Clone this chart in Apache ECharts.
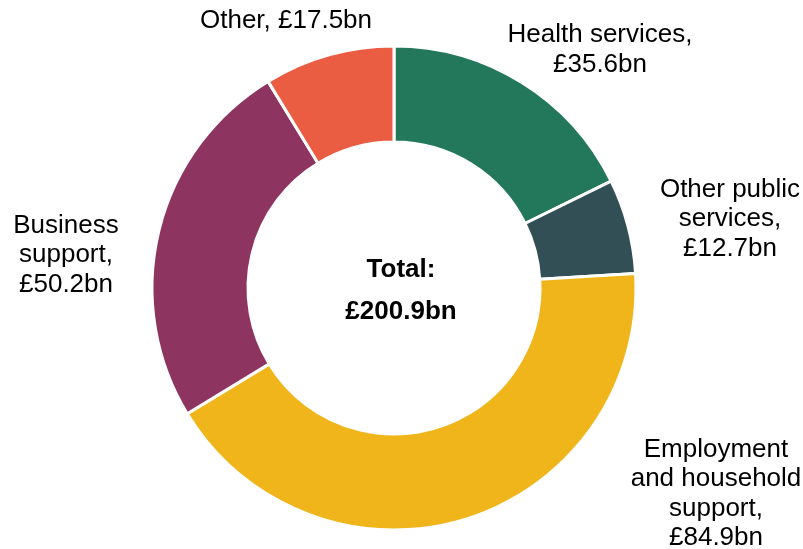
<!DOCTYPE html>
<html>
<head>
<meta charset="utf-8">
<script src="https://cdn.jsdelivr.net/npm/echarts@6/dist/echarts.min.js"></script>
<style>
  html, body { margin: 0; padding: 0; background: #fff; }
  #chart { width: 803px; height: 549px; }
</style>
</head>
<body>
<div id="chart"></div>
<script>
// Spending categories, clockwise from 12 o'clock
const categories = [
  'Health services',
  'Other public services',
  'Employment and household support',
  'Business support',
  'Other'
];
const values = [35.6, 12.7, 84.9, 50.2, 17.5];
const labelTexts = [
  'Health services,\n£35.6bn',
  'Other public\nservices,\n£12.7bn',
  'Employment\nand household\nsupport,\n£84.9bn',
  'Business\nsupport,\n£50.2bn',
  'Other, £17.5bn'
];
const totalLines = ['Total:', '£200.9bn'];

const colors = ['#23775A', '#334F56', '#F0B51A', '#8E3461', '#EB5D43'];
// label anchor (centre of each text block)
const labelAnchors = [
  [600, 50],
  [730, 219],
  [716, 494],
  [66, 255],
  [286, 21]
];

const chart = echarts.init(document.getElementById('chart'), null, { renderer: 'canvas' });

chart.setOption({
  backgroundColor: '#ffffff',
  animation: false,
  textStyle: { fontFamily: 'Liberation Sans, Arial, sans-serif' },
  series: [{
    type: 'pie',
    center: [394, 288],
    radius: [146, 242],
    startAngle: 90,
    clockwise: true,
    avoidLabelOverlap: false,
    itemStyle: { borderColor: '#ffffff', borderWidth: 3 },
    label: {
      show: true,
      position: 'outside',
      color: '#000000',
      fontSize: 26,
      lineHeight: 29.5,
      align: 'center',
      fontFamily: 'Liberation Sans, Arial, sans-serif',
      formatter: (p) => labelTexts[p.dataIndex]
    },
    labelLine: { show: false },
    labelLayout: (p) => ({
      x: labelAnchors[p.dataIndex][0],
      y: labelAnchors[p.dataIndex][1],
      align: 'center',
      verticalAlign: 'middle',
      hideOverlap: false
    }),
    emphasis: { disabled: true },
    data: categories.map((name, i) => ({
      name: name,
      value: values[i],
      itemStyle: { color: colors[i] }
    }))
  }],
  graphic: [
    {
      type: 'text',
      x: 401, y: 270,
      style: {
        text: totalLines[0],
        fill: '#000000',
        font: 'bold 26px "Liberation Sans", Arial, sans-serif',
        textAlign: 'center',
        textVerticalAlign: 'middle'
      }
    },
    {
      type: 'text',
      x: 401, y: 312,
      style: {
        text: totalLines[1],
        fill: '#000000',
        font: 'bold 26px "Liberation Sans", Arial, sans-serif',
        textAlign: 'center',
        textVerticalAlign: 'middle'
      }
    }
  ]
});
</script>
</body>
</html>
